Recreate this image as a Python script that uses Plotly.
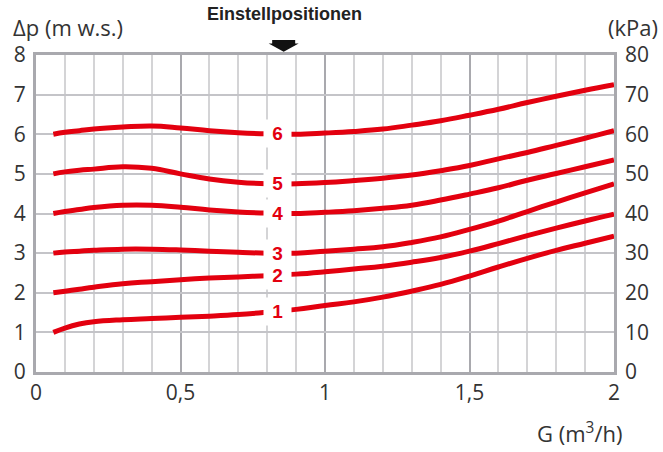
import numpy as np
import plotly.graph_objects as go

# flow G (m3/h)
G = [0.06, 0.1, 0.15, 0.2, 0.3, 0.4, 0.5, 0.6, 0.7, 0.8, 0.9, 1.0,
     1.1, 1.2, 1.3, 1.4, 1.5, 1.6, 1.7, 1.8, 1.9, 2.0]

# pressure drop (m w.s.) per setting position
pos1 = [1.00, 1.11, 1.21, 1.27, 1.32, 1.35, 1.38, 1.41, 1.45, 1.51, 1.58, 1.68,
        1.77, 1.89, 2.04, 2.21, 2.42, 2.65, 2.87, 3.07, 3.25, 3.43]
pos2 = [2.00, 2.04, 2.09, 2.14, 2.23, 2.28, 2.33, 2.37, 2.40, 2.43, 2.47, 2.53,
        2.60, 2.67, 2.77, 2.89, 3.05, 3.24, 3.44, 3.63, 3.81, 3.98]
pos3 = [3.00, 3.03, 3.05, 3.07, 3.10, 3.10, 3.08, 3.05, 3.02, 3.00, 3.00, 3.05,
        3.10, 3.16, 3.27, 3.41, 3.60, 3.81, 4.05, 4.29, 4.52, 4.75]
pos4 = [4.00, 4.05, 4.10, 4.15, 4.21, 4.21, 4.16, 4.09, 4.04, 4.01, 4.00, 4.03,
        4.07, 4.13, 4.21, 4.34, 4.49, 4.65, 4.84, 5.01, 5.18, 5.35]
pos5 = [5.00, 5.05, 5.09, 5.12, 5.18, 5.14, 5.00, 4.87, 4.79, 4.75, 4.75, 4.78,
        4.83, 4.89, 4.97, 5.08, 5.21, 5.38, 5.54, 5.72, 5.90, 6.09]
pos6 = [6.00, 6.05, 6.09, 6.13, 6.18, 6.21, 6.16, 6.09, 6.04, 6.01, 6.00, 6.03,
        6.07, 6.13, 6.23, 6.34, 6.48, 6.63, 6.80, 6.96, 7.11, 7.25]

series = [pos1, pos2, pos3, pos4, pos5, pos6]
series_labels = ["1", "2", "3", "4", "5", "6"]
label_G = 0.835          # Einstellpositionen

x_tickvals = [0, 0.5, 1, 1.5, 2]
x_ticktext = ["0", "0,5", "1", "1,5", "2"]
y_ticks = [0, 1, 2, 3, 4, 5, 6, 7, 8]
kpa_ticks = [0, 10, 20, 30, 40, 50, 60, 70, 80]

RED = "#e3000f"
TXT = "#333333"
AXFONT = "Open Sans"

fig = go.Figure()
for s in series:
    fig.add_trace(go.Scatter(x=G, y=s, mode="lines",
                             line=dict(color=RED, width=5, shape="spline", smoothing=1.2),
                             hoverinfo="skip", showlegend=False))

# invisible trace to carry right-hand kPa axis
fig.add_trace(go.Scatter(x=[x_tickvals[0], x_tickvals[-1]], y=[kpa_ticks[0], kpa_ticks[-1]],
                         yaxis="y2", mode="markers", marker=dict(opacity=0),
                         hoverinfo="skip", showlegend=False))

annotations = []
for s, lab in zip(series, series_labels):
    yv = float(np.interp(label_G, G, s))
    annotations.append(dict(x=label_G, y=yv, xref="x", yref="y", text="<b>&nbsp;" + lab + "&nbsp;</b>",
                            showarrow=False, bgcolor="white", borderpad=3,
                            font=dict(family="Liberation Sans", size=19, color=RED)))

annotations += [
    dict(x=0.86, y=1, xref="x", yref="paper", yshift=41, text="<b>Einstellpositionen</b>",
         showarrow=False, xanchor="center", yanchor="middle",
         font=dict(family="Liberation Sans", size=18, color="#222222")),
    dict(x=0, y=1, xref="paper", yref="paper", xshift=-25, yshift=28, text="Δp (m w.s.)",
         showarrow=False, xanchor="left", yanchor="middle",
         font=dict(family=AXFONT, size=22, color=TXT)),
    dict(x=1, y=1, xref="paper", yref="paper", xshift=46, yshift=28, text="(kPa)",
         showarrow=False, xanchor="right", yanchor="middle",
         font=dict(family=AXFONT, size=22, color=TXT)),
    dict(x=1, y=0, xref="paper", yref="paper", xshift=10, yshift=-60, text="G (m<sup>3</sup>/h)",
         showarrow=False, xanchor="right", yanchor="middle",
         font=dict(family=AXFONT, size=22, color=TXT)),
]

ML, MR, MT, MB = 36, 49, 55, 80
W, H = 663, 452
pw, ph = W - ML - MR, H - MT - MB
ax_c = 0.857 / 2.0
hs, hh = 11.5 / pw, 15 / pw
y_top, y_mid, y_tip = 1 + 15 / ph, 1 + 11.5 / ph, 1 + 3.3 / ph
path = (f"M {ax_c-hs},{y_top} L {ax_c+hs},{y_top} L {ax_c+hs},{y_mid} L {ax_c+hh},{y_mid} "
        f"L {ax_c},{y_tip} L {ax_c-hh},{y_mid} L {ax_c-hs},{y_mid} Z")

fig.update_layout(
    width=W, height=H,
    margin=dict(l=ML, r=MR, t=MT, b=MB),
    plot_bgcolor="white", paper_bgcolor="white",
    annotations=annotations,
    shapes=[dict(type="path", path=path, xref="paper", yref="paper", fillcolor="#111111",
                 line=dict(width=0), layer="above")],
    xaxis=dict(range=[0, 2], tickvals=x_tickvals, ticktext=x_ticktext, automargin=False,
               showgrid=True, gridcolor="#a9a9ae", gridwidth=2,
               minor=dict(dtick=0.1, showgrid=True, gridcolor="#d4d4d6", gridwidth=1.5),
               showline=True, mirror=True, linecolor="#a9a9ae", linewidth=3,
               ticks="", zeroline=False, ticklabelstandoff=0,
               tickfont=dict(family=AXFONT, size=21, color=TXT)),
    yaxis=dict(range=[0, 8], tickvals=y_ticks, showgrid=True, gridcolor="#c4c4c8", gridwidth=1.5,
               showline=True, mirror=True, linecolor="#a9a9ae", linewidth=3, automargin=False,
               ticks="", zeroline=False, ticklabelstandoff=3,
               tickfont=dict(family=AXFONT, size=21, color=TXT)),
    yaxis2=dict(range=[0, 80], tickvals=kpa_ticks, overlaying="y", side="right", automargin=False,
                showgrid=False, zeroline=False, showline=False, ticks="", ticklabelstandoff=10,
                tickfont=dict(family=AXFONT, size=21, color=TXT)),
)

# remove the page's default body margin so the figure fills the 663x452 window
fig.write_html("out.html", config={"displayModeBar": False},
               post_script="document.body.style.margin='0px';document.body.style.overflow='hidden';")
